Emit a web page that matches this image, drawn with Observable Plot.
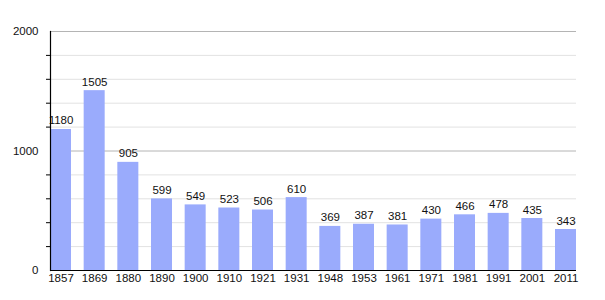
<!DOCTYPE html>
<html>
<head>
<meta charset="utf-8">
<script src="https://cdn.jsdelivr.net/npm/d3@7"></script>
<script src="https://cdn.jsdelivr.net/npm/@observablehq/plot@0.6"></script>
<style>
  body { margin: 0; background: #fff; }
  svg { font-family: "Liberation Sans", Arial, sans-serif; }
</style>
</head>
<body>
<div id="chart"></div>
<script>
const years = ["1857","1869","1880","1890","1900","1910","1921","1931","1948","1953","1961","1971","1981","1991","2001","2011"];
const population = [1180,1505,905,599,549,523,506,610,369,387,381,430,466,478,435,343];
const majorTicks = [0, 1000, 2000];
const minorTicks = [200, 400, 600, 800, 1200, 1400, 1600, 1800];

const data = years.map((y, i) => ({year: y, value: population[i]}));

const plot = Plot.plot({
  width: 605,
  height: 300,
  marginLeft: 50,
  marginRight: 29,
  marginTop: 31,
  marginBottom: 30,
  style: {fontSize: "11px", fontFamily: "'Liberation Sans', Arial, sans-serif", color: "#000", background: "#fff"},
  x: {domain: years, paddingInner: 0.376, paddingOuter: 0, round: false, label: null},
  y: {domain: [0, 2000], label: null},
  marks: [
    Plot.ruleY(minorTicks, {stroke: "#e2e2e2", strokeWidth: 1}),
    Plot.ruleY([1000, 2000], {stroke: "#b4b4b4", strokeWidth: 1}),
    Plot.barY(data, {x: "year", y: "value", fill: "#9aabfc"}),
    Plot.text(data, {x: "year", y: "value", text: d => String(d.value), lineAnchor: "bottom", dy: -5, fill: "#111", fontSize: 11.5}),
    Plot.axisY(minorTicks, {tickSize: 4, text: null, stroke: "#000"}),
    Plot.axisY(majorTicks, {tickSize: 0, tickPadding: 12, fontSize: 11.5, fill: "#111", tickFormat: d => String(d)}),
    Plot.axisX({tickSize: 0, tickPadding: 3, fontSize: 11.5, fill: "#111"}),
    Plot.frame({anchor: "left", stroke: "#000", strokeWidth: 1.2}),
    Plot.ruleY([0], {stroke: "#000", strokeWidth: 1.2})
  ]
});
document.getElementById("chart").appendChild(plot);
</script>
</body>
</html>
